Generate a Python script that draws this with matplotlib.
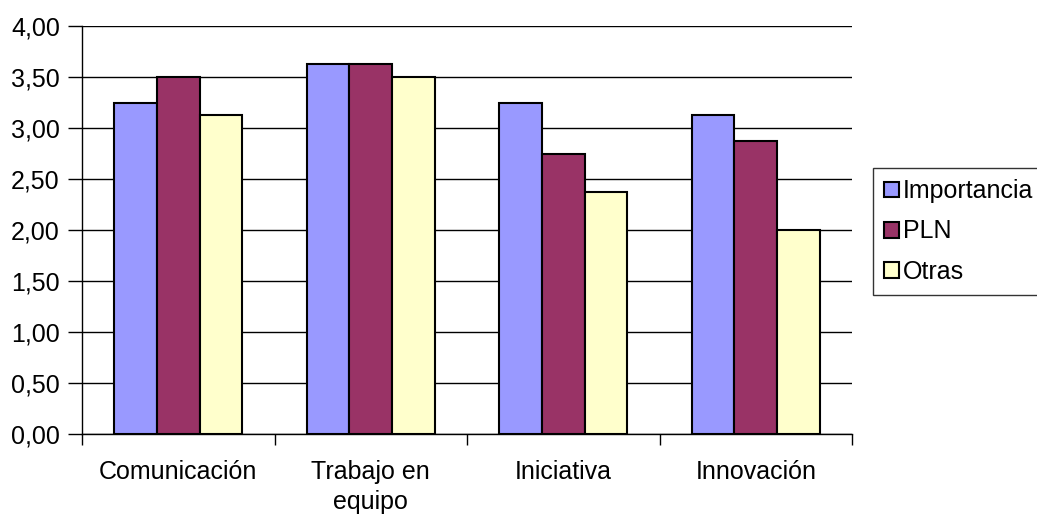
import matplotlib
matplotlib.use("Agg")
import matplotlib.pyplot as plt
import numpy as np
from matplotlib.ticker import FixedLocator, FuncFormatter

plt.rcParams['font.family'] = ['Liberation Sans', 'DejaVu Sans']

categories = ["Comunicación", "Trabajo en\nequipo", "Iniciativa", "Innovación"]
series_names = ["Importancia", "PLN", "Otras"]
importancia = [3.25, 3.625, 3.25, 3.125]
pln = [3.50, 3.625, 2.75, 2.875]
otras = [3.125, 3.50, 2.375, 2.00]
colors = ["#9999FF", "#993366", "#FFFFCC"]

fig = plt.figure(figsize=(10.37, 5.16), dpi=100)
ax = fig.add_axes([82/1037, 1-434/516, (852-82)/1037, (434-26)/516])

x = np.arange(len(categories))
w = 1/4.5
for i, (vals, name) in enumerate(zip([importancia, pln, otras], series_names)):
    ax.bar(x + (i-1)*w, vals, width=w, color=colors[i], edgecolor="black",
           linewidth=1.5, label=name, zorder=3)

ax.set_xlim(-0.5, len(categories)-0.5)
ax.set_ylim(0, 4)
ax.set_yticks(np.arange(0, 4.01, 0.5))
ax.yaxis.set_major_formatter(FuncFormatter(lambda v, p: f"{v:.2f}".replace(".", ",")))
ax.yaxis.grid(True, color="black", linewidth=1, zorder=0)
ax.set_axisbelow(True)

ax.set_xticks(x)
ax.set_xticklabels(categories, fontsize=18)
for t in ax.get_xticklabels():
    t.set_linespacing(1.3)
ax.xaxis.set_minor_locator(FixedLocator(np.arange(-0.5, len(categories), 1.0)))
ax.tick_params(axis='x', which='major', length=0, pad=19)
ax.tick_params(axis='x', which='minor', length=8, width=1, color='black', direction='out')
ax.tick_params(axis='y', length=10, width=1, direction='out', labelsize=18, pad=6)

for s in ['top', 'right']:
    ax.spines[s].set_visible(False)
for s in ['left', 'bottom']:
    ax.spines[s].set_color('black')
    ax.spines[s].set_linewidth(1)

leg = ax.legend(loc='upper left', bbox_to_anchor=(873/1037, 1-168/516),
                bbox_transform=fig.transFigure, borderaxespad=0,
                fontsize=18, frameon=True, fancybox=False, shadow=False,
                handlelength=0.6, handleheight=0.6, handletextpad=0.15,
                labelspacing=0.65, borderpad=0.45)
leg.get_frame().set_edgecolor('black')
leg.get_frame().set_linewidth(1)

fig.savefig("out.png", dpi=100)
